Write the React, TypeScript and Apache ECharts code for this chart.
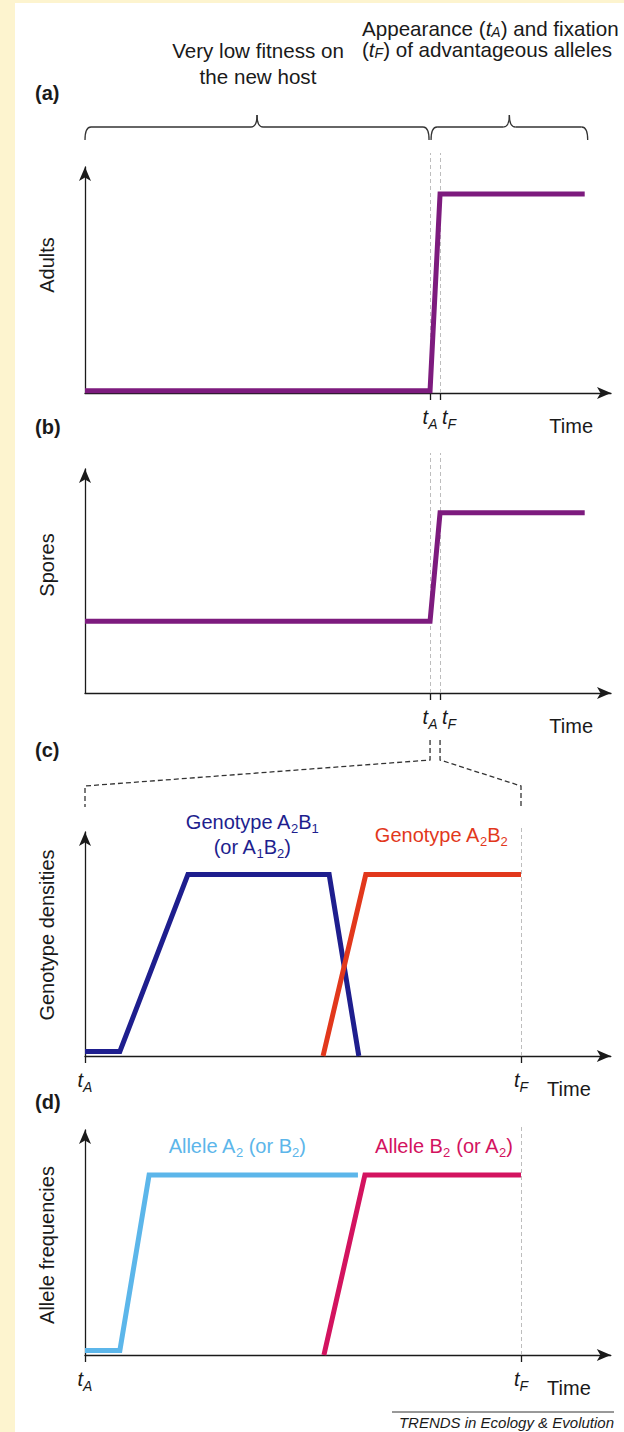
import React, { useEffect, useRef } from 'react';
import * as echarts from 'echarts';

const FONT = '"Liberation Sans", Arial, Helvetica, sans-serif';
const INK = '#1a1a1a';
const PURPLE = '#7d1b7e';
const NAVY = '#1e1e8e';
const RED = '#e2381c';
const LIGHTBLUE = '#5cb6ea';
const MAGENTA = '#d3135f';
const GUIDE = '#bdbdbd';
const PAPER = '#fdf4cf';

// ---- Panels (a) and (b): whole time course, axis 0..100 ----
const tA = 65.6; // appearance of advantageous alleles
const tF = 67.5; // fixation
const timeMaxAB = 100;
const adultsX = [0, tA, tF, 95];
const adultsY = [1, 1, 88, 88];
const sporesX = [0, tA, tF, 95];
const sporesY = [32, 32, 80.5, 80.5];
// the two labels sit side by side: tF's label is set just right of its tick
const labelPosAB = [tA, tF + 1.7];

// ---- Panels (c) and (d): zoom on tA (0) .. tF (100) ----
const zA = 0;
const zF = 100;
const timeMaxCD = 120.6;
const genoA2B1X = [0, 8, 23.6, 56, 62.8];
const genoA2B1Y = [2, 2, 81, 81, 0];
const genoA2B2X = [54.6, 64.4, 100];
const genoA2B2Y = [0, 81, 81];
const alleleA2X = [0, 8, 14.7, 62.6];
const alleleA2Y = [2, 2, 80, 80];
const alleleB2X = [54.8, 64.2, 100];
const alleleB2Y = [0, 80, 80];

const yLabels = ['Adults', 'Spores', 'Genotype densities', 'Allele frequencies'];
const panelLabels = ['(a)', '(b)', '(c)', '(d)'];

const zip = (xs: number[], ys: number[]) => xs.map((x, i) => [x, ys[i]]);

const tickRich = {
  t: { fontFamily: FONT, fontSize: 20, fontStyle: 'italic', color: INK, lineHeight: 24, verticalAlign: 'top' },
  s: { fontFamily: FONT, fontSize: 14, fontStyle: 'italic', color: INK, lineHeight: 16, verticalAlign: 'top', padding: [10, 0, 0, 0] },
};

const axisLineStyle = { color: INK, width: 1.3 };

function xAxisFor(gridIndex: number, max: number, ticks: number[], labels: number[], fmt: (v: number) => string, nameGap: number) {
  return {
    type: 'value',
    gridIndex,
    min: 0,
    max,
    axisLine: { show: true, onZero: false, symbol: ['none', 'arrow'], symbolSize: [9, 14], lineStyle: axisLineStyle },
    axisTick: { show: true, customValues: ticks, length: 7, inside: false, lineStyle: axisLineStyle },
    axisLabel: {
      show: true,
      customValues: labels,
      formatter: fmt,
      margin: 14,
      hideOverlap: false,
      interval: 0,
      showMinLabel: true,
      showMaxLabel: true,
      rich: tickRich,
    },
    splitLine: { show: false },
    name: 'Time',
    nameLocation: 'end',
    nameGap,
    nameMoveOverlap: false,
    nameTextStyle: { fontFamily: FONT, fontSize: 20, color: INK, align: 'right', verticalAlign: 'top', padding: [23, 0, 0, 0] },
  };
}

function yAxisFor(gridIndex: number) {
  return {
    type: 'value',
    gridIndex,
    min: 0,
    max: 100,
    axisLine: { show: true, onZero: false, symbol: ['none', 'arrow'], symbolSize: [9, 14], lineStyle: axisLineStyle },
    axisTick: { show: false },
    axisLabel: { show: false },
    splitLine: { show: false },
  };
}

function guide(xs: number[], yTop: number) {
  return {
    silent: true,
    z: 1,
    symbol: 'none',
    label: { show: false },
    emphasis: { disabled: true },
    lineStyle: { color: GUIDE, width: 1, type: [4, 3] },
    data: xs.map((x) => [{ coord: [x, 0] }, { coord: [x, 100], y: yTop }]),
  };
}

function lineSeries(idx: number, data: number[][], color: string, markLine?: any) {
  return {
    type: 'line',
    xAxisIndex: idx,
    yAxisIndex: idx,
    data,
    symbol: 'none',
    showSymbol: false,
    clip: false,
    silent: true,
    z: 3,
    emphasis: { disabled: true },
    lineStyle: { color, width: 5, cap: 'butt', join: 'miter' },
    ...(markLine ? { markLine } : {}),
  };
}

const fmtAB = (v: number) => (Math.abs(v - labelPosAB[0]) < 1e-6 ? '{t|t}{s|A}' : '{t|t}{s|F}');
const fmtCD = (v: number) => (Math.abs(v - zA) < 1e-6 ? '{t|t}{s|A}' : '{t|t}{s|F}');

const cdWidth = 436 * (timeMaxCD / 100);

const baseOption: any = {
  animation: false,
  backgroundColor: '#ffffff',
  grid: [
    { left: 85, top: 167, width: 526, height: 226, outerBoundsMode: 'none' },
    { left: 85, top: 469, width: 526, height: 224, outerBoundsMode: 'none' },
    { left: 85, top: 832, width: cdWidth, height: 224, outerBoundsMode: 'none' },
    { left: 85, top: 1130, width: cdWidth, height: 225, outerBoundsMode: 'none' },
  ],
  xAxis: [
    xAxisFor(0, timeMaxAB, [tA, tF], labelPosAB, fmtAB, -18),
    xAxisFor(1, timeMaxAB, [tA, tF], labelPosAB, fmtAB, -18),
    xAxisFor(2, timeMaxCD, [zA, zF], [zA, zF], fmtCD, -20),
    xAxisFor(3, timeMaxCD, [zA, zF], [zA, zF], fmtCD, -20),
  ],
  yAxis: [yAxisFor(0), yAxisFor(1), yAxisFor(2), yAxisFor(3)],
  series: [
    lineSeries(0, zip(adultsX, adultsY), PURPLE, guide([tA, tF], 153)),
    lineSeries(1, zip(sporesX, sporesY), PURPLE, guide([tA, tF], 453)),
    lineSeries(2, zip(genoA2B1X, genoA2B1Y), NAVY),
    lineSeries(2, zip(genoA2B2X, genoA2B2Y), RED, guide([zF], 827)),
    lineSeries(3, zip(alleleA2X, alleleA2Y), LIGHTBLUE),
    lineSeries(3, zip(alleleB2X, alleleB2Y), MAGENTA, guide([zF], 1127)),
  ],
};

const strokeStyle = { stroke: '#333333', lineWidth: 1.3, fill: 'none' };

function brace(x0: number, x1: number) {
  const yTop = 127;
  const yEnd = 140;
  const yPeak = 115;
  const r = 6;
  const xm = (x0 + x1) / 2;
  return [
    { type: 'bezierCurve', z: 10, shape: { x1: x0, y1: yEnd, x2: x0 + r, y2: yTop, cpx1: x0, cpy1: yTop }, style: strokeStyle },
    { type: 'line', z: 10, shape: { x1: x0 + r, y1: yTop, x2: xm - r, y2: yTop }, style: strokeStyle },
    { type: 'bezierCurve', z: 10, shape: { x1: xm - r, y1: yTop, x2: xm, y2: yPeak, cpx1: xm, cpy1: yTop }, style: strokeStyle },
    { type: 'bezierCurve', z: 10, shape: { x1: xm, y1: yPeak, x2: xm + r, y2: yTop, cpx1: xm, cpy1: yTop }, style: strokeStyle },
    { type: 'line', z: 10, shape: { x1: xm + r, y1: yTop, x2: x1 - r, y2: yTop }, style: strokeStyle },
    { type: 'bezierCurve', z: 10, shape: { x1: x1 - r, y1: yTop, x2: x1, y2: yEnd, cpx1: x1, cpy1: yTop }, style: strokeStyle },
  ];
}

function subText(text: string, x: number, y: number, color: string, align: string, lineHeight: number, fontSize = 20) {
  return {
    type: 'text',
    z: 10,
    x,
    y,
    style: {
      text,
      fontFamily: FONT,
      fontSize,
      lineHeight,
      fill: color,
      align,
      verticalAlign: 'middle',
      rich: {
        s: { fontFamily: FONT, fontSize: 13, lineHeight: 13, fill: color, verticalAlign: 'bottom' },
        t: { fontFamily: FONT, fontSize, fontStyle: 'italic', lineHeight, fill: color },
        ts: { fontFamily: FONT, fontSize: 14, fontStyle: 'italic', lineHeight: 13, fill: color, verticalAlign: 'bottom' },
      },
    },
  };
}

function buildGraphics(chart: any) {
  const px = (g: number, v: number[]) => chart.convertToPixel({ gridIndex: g }, v) as number[];
  const a0 = px(0, [0, 0]);
  const aA = px(0, [tA, 0]);
  const aEnd = px(0, [adultsX[adultsX.length - 1], 0]);
  const bA = px(1, [tA, 0]);
  const bF = px(1, [tF, 0]);
  const c0 = px(2, [zA, 0]);
  const cF = px(2, [zF, 0]);

  const dash = { stroke: '#333333', lineWidth: 1.3, fill: 'none', lineDash: [5, 3] };
  const yLabelPos = [265, 565, 935, 1245];
  const panelLabelY = [93, 427, 750, 1102];

  const els: any[] = [
    { type: 'rect', z: 0, shape: { x: 0, y: 0, width: 15, height: 1432 }, style: { fill: PAPER } },
    { type: 'rect', z: 0, shape: { x: 0, y: 0, width: 624, height: 3 }, style: { fill: PAPER } },
    ...brace(a0[0], aA[0] - 1),
    ...brace(aA[0] + 1, aEnd[0] + 3),
    {
      type: 'text', z: 10, x: 258, y: 63,
      style: { text: 'Very low fitness on\nthe new host', fontFamily: FONT, fontSize: 20.6, lineHeight: 26, fill: INK, align: 'center', verticalAlign: 'middle' },
    },
    subText('Appearance ({t|t}{ts|A}) and fixation\n({t|t}{ts|F}) of advantageous alleles', 362, 38.5, INK, 'left', 21, 20.6),
    {
      type: 'polyline', z: 10,
      shape: { points: [[bA[0], 740], [bA[0], 760], [c0[0], 786], [c0[0], 807]] },
      style: dash,
    },
    {
      type: 'polyline', z: 10,
      shape: { points: [[bF[0], 740], [bF[0], 760], [cF[0], 786], [cF[0], 808]] },
      style: dash,
    },
    subText('Genotype A{s|2}B{s|1}\n(or A{s|1}B{s|2})', 252, 834.5, NAVY, 'center', 25),
    subText('Genotype A{s|2}B{s|2}', 441, 835, RED, 'center', 25),
    subText('Allele A{s|2} (or B{s|2})', 237, 1146, LIGHTBLUE, 'center', 25),
    subText('Allele B{s|2} (or A{s|2})', 444, 1146, MAGENTA, 'center', 25),
    { type: 'line', z: 10, shape: { x1: 392, y1: 1412, x2: 614, y2: 1412 }, style: { stroke: '#333333', lineWidth: 1 } },
    {
      type: 'text', z: 10, x: 614, y: 1422,
      style: { text: 'TRENDS in Ecology & Evolution', fontFamily: FONT, fontSize: 15, fontStyle: 'italic', fill: INK, align: 'right', verticalAlign: 'middle' },
    },
  ];
  yLabels.forEach((t, i) => {
    els.push({
      type: 'text', z: 10, x: 47, y: yLabelPos[i], rotation: Math.PI / 2,
      style: { text: t, fontFamily: FONT, fontSize: 20, fill: INK, align: 'center', verticalAlign: 'middle' },
    });
  });
  panelLabels.forEach((t, i) => {
    els.push({
      type: 'text', z: 10, x: 35, y: panelLabelY[i],
      style: { text: t, fontFamily: FONT, fontSize: 20, fontWeight: 'bold', fill: INK, align: 'left', verticalAlign: 'middle' },
    });
  });
  return els;
}

export default function App() {
  const ref = useRef<HTMLDivElement>(null);
  useEffect(() => {
    if (!ref.current) return;
    const chart = echarts.init(ref.current, null, { renderer: 'svg' });
    chart.setOption(baseOption);
    chart.setOption({ graphic: buildGraphics(chart) });
    return () => chart.dispose();
  }, []);
  return <div ref={ref} style={{ position: 'absolute', left: 0, top: 0, width: 624, height: 1432 }} />;
}
